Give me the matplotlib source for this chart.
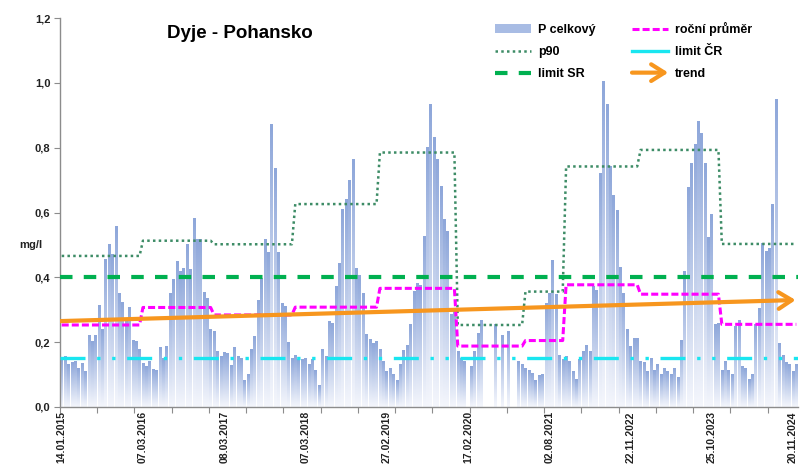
#!/usr/bin/env python3
"""Dyje - Pohansko: total phosphorus with p90, annual mean, limits and trend."""
import matplotlib

matplotlib.use("Agg")

import matplotlib.pyplot as plt  # noqa: E402
import numpy as np  # noqa: E402
from matplotlib.colors import LinearSegmentedColormap  # noqa: E402
from matplotlib.legend_handler import HandlerBase  # noqa: E402
from matplotlib.lines import Line2D  # noqa: E402
from matplotlib.patches import FancyArrowPatch, Patch  # noqa: E402

plt.rcParams["font.family"] = ["Liberation Sans", "DejaVu Sans"]

# P celkový, one value per sample (None = missing sample)
P_TOTAL = [
    0.145, 0.157, 0.130, 0.138, 0.140, 0.119, 0.133, 0.109, 0.220, 0.202,
    0.220, 0.313, 0.240, 0.454, 0.500, 0.469, 0.557, 0.351, 0.323, 0.268,
    0.308, 0.205, 0.202, 0.176, 0.133, 0.125, 0.140, 0.117, 0.114, 0.183,
    0.150, 0.186, 0.349, 0.392, 0.449, 0.418, 0.428, 0.500, 0.423, 0.580,
    0.516, 0.516, 0.353, 0.336, 0.238, 0.233, 0.171, 0.156, 0.168, 0.165,
    0.129, 0.184, 0.156, 0.150, 0.081, 0.099, 0.178, 0.217, 0.327, 0.395,
    0.517, 0.476, 0.870, 0.737, 0.476, 0.320, 0.310, 0.198, 0.150, 0.160,
    0.147, 0.147, 0.150, 0.131, 0.145, 0.114, 0.067, 0.178, 0.157, 0.263,
    0.258, 0.371, 0.443, 0.608, 0.641, 0.700, 0.764, 0.428, 0.407, 0.350,
    0.223, 0.207, 0.196, 0.201, 0.176, 0.140, 0.109, 0.119, 0.100, 0.083,
    0.130, 0.173, 0.191, 0.253, 0.356, 0.381, 0.376, 0.525, 0.800, 0.932,
    0.831, 0.762, 0.680, 0.577, 0.541, 0.284, 0.305, 0.170, 0.150, 0.140,
    None, 0.124, 0.171, 0.228, 0.268, None, None, None, 0.253, None,
    0.222, None, 0.232, None, None, 0.140, 0.130, 0.120, 0.114, 0.104,
    0.083, 0.096, 0.099, 0.320, 0.349, 0.451, 0.348, 0.160, 0.145, 0.155,
    0.140, 0.109, 0.085, 0.146, 0.170, 0.190, 0.170, 0.371, 0.359, 0.721,
    1.004, 0.932, 0.742, 0.651, 0.606, 0.431, 0.349, 0.240, 0.188, 0.212,
    0.212, 0.140, 0.138, 0.109, 0.150, 0.114, 0.130, 0.099, 0.119, 0.109,
    0.099, 0.119, 0.091, 0.205, 0.418, 0.678, 0.752, 0.809, 0.881, 0.844,
    0.752, 0.524, 0.593, 0.253, 0.258, 0.114, 0.140, 0.114, 0.099, 0.247,
    0.268, 0.126, 0.119, 0.085, 0.099, 0.253, 0.304, 0.503, 0.479, 0.489,
    0.626, 0.948, 0.196, 0.160, 0.137, 0.130, 0.109, 0.130,
]

# first sample index of each year block, with the yearly p90 and mean
YEAR_START = [0, 24, 45, 69, 94, 117, 137, 149, 171, 195]
P90 = [0.466, 0.513, 0.502, 0.626, 0.785, 0.253, 0.356, 0.742, 0.793, 0.503]
ANNUAL_MEAN = [0.253, 0.307, 0.284, 0.308, 0.366, 0.188, 0.205, 0.377, 0.348, 0.255]

LIMIT_SR = 0.40
LIMIT_CR = 0.15
TREND_X = [-0.5, 216.8]
TREND_Y = [0.265, 0.330]

DATE_POS = [0, 24, 48, 72, 96, 120, 144, 168, 192, 216]
DATE_LABELS = ["14.01.2015", "07.03.2016", "08.03.2017", "07.03.2018",
               "27.02.2019", "17.02.2020", "02.08.2021", "22.11.2022",
               "25.10.2023", "20.11.2024"]

GREEN = "#00b050"
CYAN = "#19e6f0"
MAGENTA = "#ff00ff"
ORANGE = "#f7961e"
P90_COLOR = "#3d8c66"
ARROW_STYLE = "->,head_length=0.95,head_width=0.6"


class HandlerArrow(HandlerBase):
    def create_artists(self, legend, orig_handle, xdescent, ydescent,
                       width, height, fontsize, trans):
        y = height / 2 - ydescent
        arrow = FancyArrowPatch((-xdescent, y), (width - xdescent, y),
                                arrowstyle=ARROW_STYLE, mutation_scale=10,
                                lw=3, color=orig_handle.get_color(),
                                shrinkA=0, shrinkB=0)
        arrow.set_transform(trans)
        return [arrow]


def main():
    vals = np.array([np.nan if v is None else v for v in P_TOTAL], dtype=float)
    n = len(vals)
    idx = np.arange(n)
    lengths = np.diff(YEAR_START + [n])
    p90 = np.repeat(P90, lengths)
    mean = np.repeat(ANNUAL_MEAN, lengths)

    fig = plt.figure(figsize=(8, 4.66), dpi=100)
    ax = fig.add_axes([60 / 800, 59 / 466, 738 / 800, 389 / 466])

    # gradient-filled bars
    cmap = LinearSegmentedColormap.from_list("bar", ["#f4f6fc", "#8ea7da"])
    grad = np.linspace(0, 1, 64).reshape(-1, 1)
    w = 0.72
    for k, v in zip(idx, vals):
        if np.isnan(v):
            continue
        ax.imshow(grad, extent=(k - w / 2, k + w / 2, 0, v), aspect="auto",
                  cmap=cmap, origin="lower", interpolation="bilinear", zorder=1)

    ax.plot(idx, p90, color=P90_COLOR, lw=1.8, ls=(0, (1, 1.3)), zorder=3)
    ax.axhline(LIMIT_SR, color=GREEN, lw=3, ls=(0, (3.0, 2.7)), zorder=3)
    ax.axhline(LIMIT_CR, color=CYAN, lw=2.4,
               ls=(0, (7.5, 3.5, 1, 3.5, 1, 3.5)), zorder=3)
    ax.plot(idx, mean, color=MAGENTA, lw=2.2, ls=(0, (2.3, 1.0)), zorder=4)
    ax.add_patch(FancyArrowPatch((TREND_X[0], TREND_Y[0]), (TREND_X[1], TREND_Y[1]),
                                 arrowstyle=ARROW_STYLE, mutation_scale=10, lw=3,
                                 color=ORANGE, shrinkA=0, shrinkB=0, zorder=5))

    ax.set_xlim(-0.5, n - 0.5)
    ax.set_ylim(0, 1.2)

    for side in ("top", "right"):
        ax.spines[side].set_visible(False)
    for side in ("left", "bottom"):
        ax.spines[side].set_color("#8c8c8c")
        ax.spines[side].set_linewidth(1.0)

    yt = np.arange(0, 1.21, 0.2)
    ax.set_yticks(yt)
    ax.set_yticklabels([f"{v:.1f}".replace(".", ",") for v in yt],
                       fontsize=8, fontweight="bold", color="#222222")
    ax.tick_params(axis="y", direction="out", length=4, color="#8c8c8c", pad=3)

    ax.set_xticks(np.arange(-0.5, n, 11))
    ax.set_xticklabels([])
    ax.set_xticks(DATE_POS, minor=True)
    ax.set_xticklabels(DATE_LABELS, minor=True, rotation=90, fontsize=7.5,
                       fontweight="bold", color="#222222")
    ax.tick_params(axis="x", which="major", direction="out", length=4,
                   color="#8c8c8c")
    ax.tick_params(axis="x", which="minor", length=0, pad=3)

    fig.text(31 / 800, 1 - 245 / 466, "mg/l", ha="center", va="center",
             fontsize=8, fontweight="bold", color="#222222")
    fig.text(240 / 800, 1 - 33 / 466, "Dyje - Pohansko", ha="center",
             va="center", fontsize=13.5, fontweight="bold")

    trend_handle = Line2D([], [], color=ORANGE)
    handles = [
        Patch(facecolor="#a8bce4", edgecolor="none"),
        Line2D([], [], color=P90_COLOR, lw=1.8, ls=(0, (1, 1.3))),
        Line2D([], [], color=GREEN, lw=3, ls=(0, (3.0, 2.7))),
        Line2D([], [], color=MAGENTA, lw=2.2, ls=(0, (2.3, 1.0))),
        Line2D([], [], color=CYAN, lw=2.4),
        trend_handle,
    ]
    labels = ["P celkový", "p90", "limit SR", "roční průměr", "limit ČR", "trend"]
    fig.legend(handles, labels, ncol=2, loc="upper left",
               bbox_to_anchor=(495 / 800, 1 - 22 / 466),
               prop={"weight": "bold", "size": 9}, frameon=False,
               handlelength=2.9, handletextpad=0.55, columnspacing=2.9,
               labelspacing=0.8, borderpad=0, borderaxespad=0,
               handler_map={trend_handle: HandlerArrow()})

    fig.savefig("out.png", dpi=100)
    plt.close(fig)


if __name__ == "__main__":
    main()
